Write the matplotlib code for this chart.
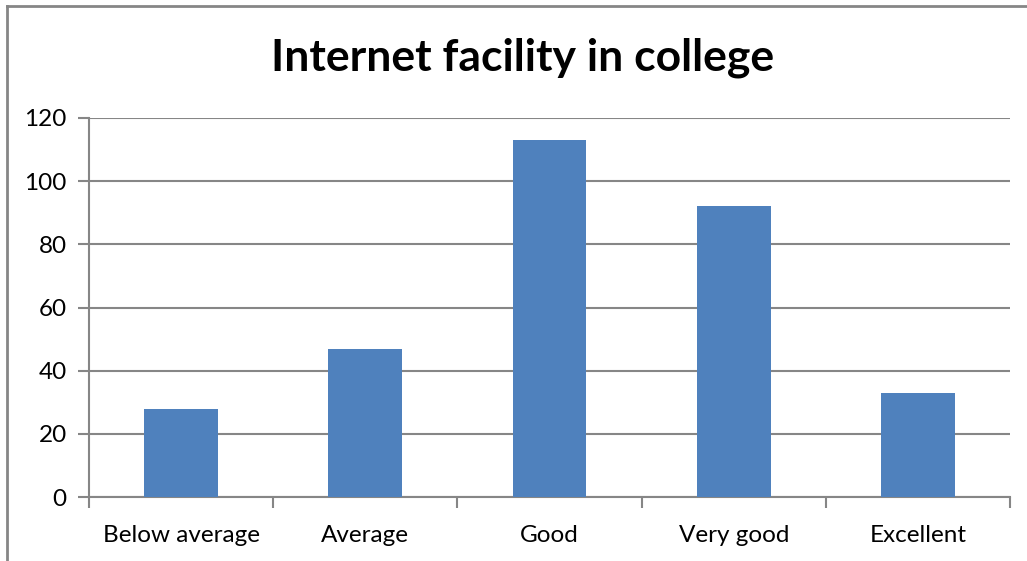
import matplotlib.pyplot as plt
from matplotlib.lines import Line2D

categories = ['Below average', 'Average', 'Good', 'Very good', 'Excellent']
values = [28, 47, 113, 92, 33]
y_ticks = [0, 20, 40, 60, 80, 100, 120]

plt.rcParams['font.family'] = ['Lato', 'DejaVu Sans']

W, H = 1027, 561
fig = plt.figure(figsize=(W / 100, H / 100), dpi=100)
ax = fig.add_axes([89 / W, 1 - 497 / H, (1010 - 89) / W, (497 - 118) / H])

xs = range(len(categories))
ax.bar(xs, values, width=0.4, color='#4f81bd', zorder=3)

ax.set_xlim(-0.5, len(categories) - 0.5)
ax.set_ylim(0, 120)
ax.set_yticks(y_ticks)
ax.set_yticklabels([str(v) for v in y_ticks], fontsize=17.5)
ax.set_xticks(list(xs))
ax.set_xticklabels(categories, fontsize=17.5)
ax.tick_params(axis='x', length=0, pad=20)
ax.tick_params(axis='y', length=8, width=1.5, color='#868686', pad=8)

# category boundary ticks on the x axis
ax.set_xticks([i - 0.5 for i in range(len(categories) + 1)], minor=True)
ax.tick_params(axis='x', which='minor', length=8, width=1.5, color='#868686')

ax.grid(axis='y', color='#868686', linewidth=1.5, zorder=0)
for side in ['top', 'right']:
    ax.spines[side].set_visible(False)
for side in ['left', 'bottom']:
    ax.spines[side].set_color('#868686')
    ax.spines[side].set_linewidth(1.5)

fig.text(523 / W, 1 - 58 / H, 'Internet facility in college', ha='center', va='center',
         fontsize=32, fontweight='bold')

# outer chart border (cut off on right and bottom)
fig.add_artist(Line2D([7 / W, 7 / W], [0, 1 - 6 / H], color='#868686', linewidth=2))
fig.add_artist(Line2D([7 / W, 1], [1 - 6 / H, 1 - 6 / H], color='#868686', linewidth=2))

fig.savefig('out.png', dpi=100)
